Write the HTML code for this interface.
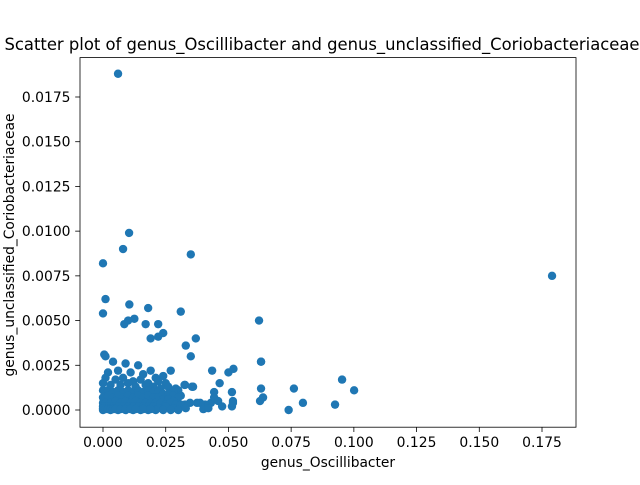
<!DOCTYPE html>
<html><head><meta charset="utf-8"><style>
body{margin:0;background:#fff;}
svg{font-family:"DejaVu Sans","Liberation Sans",sans-serif;}
</style></head><body>
<svg id="chart" width="640" height="480" viewBox="0 0 640 480">
<rect width="640" height="480" fill="#fff"/>
<text x="322" y="50" font-size="16.4" text-anchor="middle">Scatter plot of genus_Oscillibacter and genus_unclassified_Coriobacteriaceae</text>
<g id="pts"></g>
<rect x="80" y="57.6" width="496" height="369.6" fill="none" stroke="#000" stroke-width="0.8"/>
<g id="axes"></g>
<text x="328" y="467" font-size="13.8" text-anchor="middle">genus_Oscillibacter</text>
<text transform="translate(14,245) rotate(-90)" font-size="13.8" text-anchor="middle">genus_unclassified_Coriobacteriaceae</text>
</svg>
<script>
const xTicks=[0,0.025,0.05,0.075,0.1,0.125,0.15,0.175];
const xTickLabels=["0.000","0.025","0.050","0.075","0.100","0.125","0.150","0.175"];
const yTicks=[0,0.0025,0.005,0.0075,0.01,0.0125,0.015,0.0175];
const yTickLabels=["0.0000","0.0025","0.0050","0.0075","0.0100","0.0125","0.0150","0.0175"];
const xVals=[0.006,0.0104,0.008,0,0.035,0.179,0.001,0,0.0105,0.0125,0.010,0.0085,0.018,0.017,0.022,0.024,0.022,0.019,0.031,0.037,0.033,0.035,0.0622,0.063,0.0005,0.001,
0.0325,0.0355,0.063,0.0435,0.0500,0.0520,0.0465,0.0327,0.0359,0.0443,0.0514,0.0630,0.0761,0.0953,0.1001,0.0797,0.0925,0.0626,0.0638,0.0430,0.0375,0.0407,0.0514,0.0518,0.0327,0.0347,0.0387,0.0443,0.0459,0.0475,0.0518,0.0740,
0.004,0.009,0.014,0.019,0.024,0.027,0.002,0.006,0.011,0.016,0.021,0.025,0.029,0.001,0.005,0.008,0.012,0.015,0.018,0.022,0.026,0.030,0.0,0.003,0.007,0.010,0.013,0.017,0.020,0.023,0.028,0.031,
0.0,0.002,0.004,0.006,0.008,0.010,0.012,0.014,0.016,0.018,0.020,0.022,0.024,0.026,0.028,0.030,0.0,0.002,0.004,0.006,0.008,0.010,0.012,0.014,0.016,0.018,0.020,0.022,0.024,0.026,0.028,0.0,0.001,0.003,0.005,0.007,0.009,0.011,0.013,0.015,0.017,0.019,0.021,0.023,0.025,0.027,0.029,0.031,0.0,0.002,0.004,0.006,0.008,0.010,0.012,0.014,0.016,0.018,0.020,0.022,0.025,0.028,0.0,0.003,0.006,0.009,0.012,0.015,0.018,0.021,0.024,0.027,0.030,0.033,0.0,0.001,0.002,0.003,0.004,0.005,0.007,0.009,0.011,0.013,0.016,0.019,0.040,0.042];
const yVals=[0.0188,0.0099,0.0090,0.0082,0.0087,0.0075,0.0062,0.0054,0.0059,0.0051,0.0050,0.0048,0.0057,0.0048,0.0048,0.0043,0.0041,0.0040,0.0055,0.0040,0.0036,0.0030,0.0050,0.0027,0.0031,0.0030,
0.0014,0.0013,0.0027,0.0022,0.0021,0.0023,0.0015,0.0014,0.0013,0.0010,0.0010,0.0012,0.0012,0.0017,0.0011,0.0004,0.0003,0.0005,0.0007,0.0004,0.0004,0.0003,0.0002,0.0005,0.0003,0.0004,0.0004,0.0007,0.0005,0.0002,0.0004,0.0000,
0.0027,0.0026,0.0025,0.0022,0.0019,0.0022,0.0021,0.0022,0.0021,0.0020,0.0018,0.0015,0.0012,0.0018,0.0017,0.0018,0.0016,0.0017,0.0015,0.0016,0.0013,0.0011,0.0015,0.0014,0.0014,0.0015,0.0013,0.0014,0.0013,0.0012,0.0010,0.0008,
0.0011,0.0011,0.0010,0.0011,0.0010,0.0011,0.0010,0.0011,0.0010,0.0011,0.0010,0.0010,0.0009,0.0009,0.0008,0.0007,0.0007,0.0008,0.0007,0.0008,0.0007,0.0008,0.0007,0.0008,0.0007,0.0008,0.0007,0.0007,0.0006,0.0006,0.0005,0.0004,0.0004,0.0004,0.0005,0.0004,0.0005,0.0004,0.0005,0.0004,0.0004,0.0004,0.0004,0.0004,0.0003,0.0004,0.0003,0.0003,0.0002,0.0002,0.0002,0.0002,0.0002,0.0002,0.0002,0.0002,0.0002,0.0002,0.0002,0.0001,0.0002,0.0001,0.0,0.0,0.0,0.0,0.0,0.0,0.0,0.0,0.0,0.0,0.0,0.0001,0.0001,0.00005,0.00005,0.00005,0.00005,0.00005,0.00005,0.00005,0.00005,0.00005,0.00005,0.00005,0.00005,0.0001,0.0];
const ns="http://www.w3.org/2000/svg";
function sx(v){return 103+v*2508.6;}
function sy(v){return 410-v*17886;}
const pts=document.getElementById('pts');
for(let i=0;i<xVals.length;i++){
  const c=document.createElementNS(ns,'circle');
  c.setAttribute('cx',sx(xVals[i]));c.setAttribute('cy',sy(yVals[i]));c.setAttribute('r',4.2);c.setAttribute('fill','#1f77b4');
  
  
  pts.appendChild(c);
}
const ax=document.getElementById('axes');
xTicks.forEach((t,i)=>{
  const l=document.createElementNS(ns,'line');
  l.setAttribute('x1',sx(t));l.setAttribute('x2',sx(t));l.setAttribute('y1',427.2);l.setAttribute('y2',432);l.setAttribute('stroke','#000');l.setAttribute('stroke-width','0.8');
  
  
  ax.appendChild(l);
  const tx=document.createElementNS(ns,'text');
  tx.setAttribute('x',sx(t));tx.setAttribute('y',447);tx.setAttribute('font-size','13.9');tx.setAttribute('text-anchor','middle');tx.textContent=xTickLabels[i];
  
  
  ax.appendChild(tx);
});
yTicks.forEach((t,i)=>{
  const l=document.createElementNS(ns,'line');
  l.setAttribute('x1',75.2);l.setAttribute('x2',80);l.setAttribute('y1',sy(t));l.setAttribute('y2',sy(t));l.setAttribute('stroke','#000');l.setAttribute('stroke-width','0.8');
  
  
  ax.appendChild(l);
  const tx=document.createElementNS(ns,'text');
  tx.setAttribute('x',70.5);tx.setAttribute('y',sy(t)+5);tx.setAttribute('font-size','13.9');tx.setAttribute('text-anchor','end');tx.textContent=yTickLabels[i];
  
  
  ax.appendChild(tx);
});
</script>
</body></html>
